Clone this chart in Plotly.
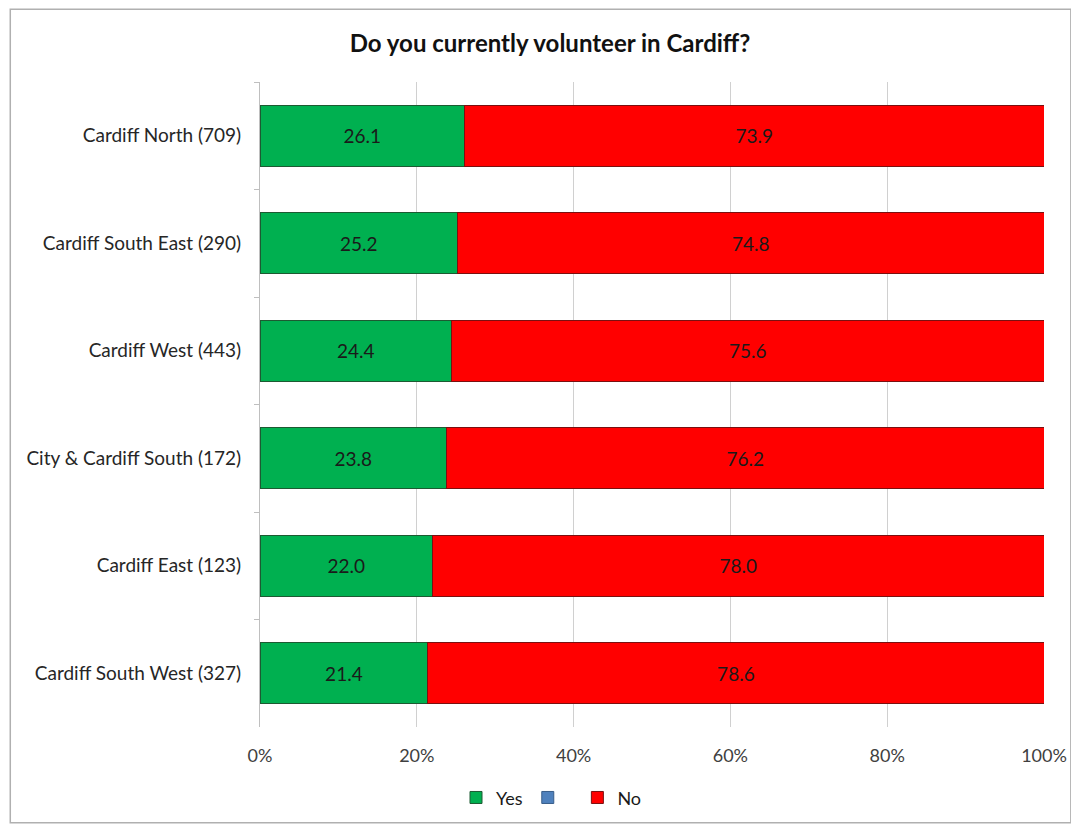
import plotly.graph_objects as go

categories = ["Cardiff North (709)", "Cardiff South East (290)", "Cardiff West (443)",
              "City & Cardiff South (172)", "Cardiff East (123)", "Cardiff South West (327)"]
yes_vals = [26.1, 25.2, 24.4, 23.8, 22.0, 21.4]
dk_vals = [0, 0, 0, 0, 0, 0]
no_vals = [73.9, 74.8, 75.6, 76.2, 78.0, 78.6]
x_ticks = [0, 20, 40, 60, 80, 100]
x_tick_labels = ["0%", "20%", "40%", "60%", "80%", "100%"]

FONT = "Lato, Carlito, Calibri, sans-serif"

W, H = 1071, 820
L, R, T, B = 252, 31, 74, 99
pw, ph = W - L - R, H - T - B
plot_bottom = H - B

fig = go.Figure()
fig.add_trace(go.Bar(
    y=categories, x=yes_vals, name="Yes", orientation="h",
    marker=dict(color="#00B050", line=dict(color="#1d5a32", width=1)),
    text=[f"{v:.1f}" for v in yes_vals], textposition="inside", insidetextanchor="middle",
    textfont=dict(color="#1a1a1a", size=19, family=FONT),
))
fig.add_trace(go.Bar(
    y=categories, x=dk_vals, name=" ", orientation="h",
    marker=dict(color="#4F81BD", line=dict(color="#385d8a", width=1)),
    hoverinfo="skip",
))
fig.add_trace(go.Bar(
    y=categories, x=no_vals, name="No", orientation="h",
    marker=dict(color="#FF0000", line=dict(color="#7a1010", width=1)),
    text=[f"{v:.1f}" for v in no_vals], textposition="inside", insidetextanchor="middle",
    textfont=dict(color="#1a1a1a", size=19, family=FONT),
))

fig.update_layout(
    barmode="stack",
    bargap=0.43,
    width=W, height=H,
    margin=dict(l=L, r=R, t=T, b=B),
    paper_bgcolor="white", plot_bgcolor="white",
    font=dict(family=FONT, size=18, color="#404040"),
    title=dict(text="<b>Do you currently volunteer in Cardiff?</b>", x=542 / W, xanchor="center",
               y=1 - 36 / H, yanchor="middle", font=dict(size=24, color="#111111", family=FONT)),
    legend=dict(orientation="h", x=(545 - L) / pw, xanchor="center",
                y=(plot_bottom - 792) / ph, yanchor="middle",
                font=dict(size=18, color="#1a1a1a"), traceorder="normal",
                itemwidth=30, bgcolor="rgba(0,0,0,0)"),
    xaxis=dict(range=[0, 100], tickvals=x_ticks, ticktext=x_tick_labels, showgrid=True,
               gridcolor="#d0d0d0", gridwidth=1, zeroline=False, showline=False,
               tickfont=dict(size=18, color="#404040"), ticks="", ticklabelstandoff=16),
    yaxis=dict(categoryorder="array", categoryarray=categories, autorange="reversed",
               showline=True, linecolor="#bfbfbf", linewidth=1, ticks="outside",
               tickson="boundaries", ticklen=5, tickcolor="#bfbfbf",
               tickfont=dict(size=19, color="#262626"), ticklabelstandoff=14),
    showlegend=True,
)

# chart border
fig.add_shape(type="rect", xref="paper", yref="paper",
              x0=(1 - L) / pw, x1=(1067 - L) / pw,
              y0=(plot_bottom - 817) / ph, y1=(plot_bottom - 1) / ph,
              line=dict(color="#b0b0b0", width=1.5), fillcolor="rgba(0,0,0,0)", layer="below")

fig.write_html("out.html")
